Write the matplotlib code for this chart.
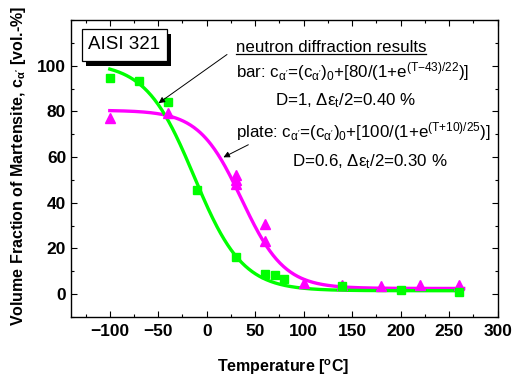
import numpy as np
import matplotlib
matplotlib.use("Agg")
import matplotlib.pyplot as plt
from matplotlib.patches import Rectangle
from matplotlib.lines import Line2D

plt.rcParams['font.family'] = ['Liberation Sans', 'DejaVu Sans']
plt.rcParams['mathtext.default'] = 'regular'

# ---- data ----
bar_T = [-100, -70, -40, -10, 30, 60, 70, 80, 140, 200, 260]
bar_c = [94.5, 93.3, 84.2, 45.4, 16.2, 9.0, 8.5, 6.6, 3.5, 2.0, 1.0]

plate_T = [-100, -40, 30, 30, 30, 60, 60, 100, 140, 180, 220, 260]
plate_c = [77.0, 79.5, 52.0, 50.0, 48.0, 30.7, 23.4, 4.9, 4.2, 3.5, 3.8, 3.8]

# sigmoidal fit parameters (as drawn): c = c0 + A/(1+exp((T-T0)/w))
green_fit = dict(c0=1.5, A=100.0, T0=-13.0, w=25.0, Tmin=-100, Tmax=262)
magenta_fit = dict(c0=2.5, A=78.0, T0=36.0, w=22.0, Tmin=-100, Tmax=265)

x_ticks = [-100, -50, 0, 50, 100, 150, 200, 250, 300]
y_ticks = [0, 20, 40, 60, 80, 100]


def sigmoid(p):
    T = np.linspace(p['Tmin'], p['Tmax'], 400)
    return T, p['c0'] + p['A'] / (1.0 + np.exp((T - p['T0']) / p['w']))


fig = plt.figure(figsize=(5.13, 3.79), dpi=100)
ax = fig.add_axes([0.1384, 0.1636, 0.970 - 0.1384, 0.9472 - 0.1636])

GREEN = '#00FF00'
MAGENTA = '#FF00FF'

Tm, cm = sigmoid(magenta_fit)
ax.plot(Tm, cm, color=MAGENTA, lw=2.4, zorder=3)
Tg, cg = sigmoid(green_fit)
ax.plot(Tg, cg, color=GREEN, lw=2.4, zorder=3)

ax.plot(plate_T, plate_c, linestyle='none', marker='^', ms=7.5,
        color=MAGENTA, mec=MAGENTA, zorder=4)
ax.plot(bar_T, bar_c, linestyle='none', marker='s', ms=6.0,
        color=GREEN, mec=GREEN, zorder=4)

ax.set_xlim(-140, 300)
ax.set_ylim(-10, 120)
ax.set_xticks(x_ticks)
ax.set_xticks(np.arange(-125, 300, 25), minor=True)
ax.set_yticks(y_ticks)
ax.set_yticks(np.arange(-10, 121, 10), minor=True)

ax.tick_params(which='both', direction='in', top=True, right=True, width=0.8)
ax.tick_params(which='major', length=4.2, labelsize=12.5, pad=5.0)
ax.tick_params(which='minor', length=2.2)
ax.tick_params(axis='y', which='major', pad=3.5)
for lab in ax.get_xticklabels() + ax.get_yticklabels():
    lab.set_fontweight('bold')
for sp in ax.spines.values():
    sp.set_linewidth(1.0)

ax.set_xlabel('Temperature [$^{o}$C]', fontsize=11.5, fontweight='bold')
ax.xaxis.set_label_coords(0.497, -0.135)
ax.set_ylabel("Volume Fraction of Martensite, c$_{α'}$ [vol.-%]",
              fontsize=11.5, fontweight='bold')
ax.yaxis.set_label_coords(-0.10, 0.51)

# AISI 321 box with shadow
bx0, bx1, by0, by1 = 0.0251, 0.2243, 0.862, 0.9697
ax.add_patch(Rectangle((bx0 + 0.0105, by0 - 0.0168), bx1 - bx0, by1 - by0,
                       transform=ax.transAxes, facecolor='black',
                       edgecolor='black', lw=0, zorder=6))
ax.add_patch(Rectangle((bx0, by0), bx1 - bx0, by1 - by0,
                       transform=ax.transAxes, facecolor='white',
                       edgecolor='black', lw=0.9, zorder=7))
ax.text((bx0 + bx1) / 2, 0.916, 'AISI 321', transform=ax.transAxes,
        ha='center', va='center', fontsize=13.5, zorder=8)

fs = 12.2
t_head = ax.text(0.3867, 0.893, 'neutron diffraction results',
                 transform=ax.transAxes, fontsize=fs, va='baseline', zorder=8)
ax.text(0.3867, 0.807,
        "bar: c$_{α'}$=(c$_{α'}$)$_0$+[80/(1+e$^{(T{-}43)/22}$)]",
        transform=ax.transAxes, fontsize=fs, va='baseline', zorder=8)
ax.text(0.478, 0.714, 'D=1, Δε$_t$/2=0.40 %',
        transform=ax.transAxes, fontsize=fs, va='baseline', zorder=8)
ax.text(0.386, 0.605,
        "plate: c$_{α'}$=(c$_{α'}$)$_0$+[100/(1+e$^{(T{+}10)/25}$)]",
        transform=ax.transAxes, fontsize=fs, va='baseline', zorder=8)
ax.text(0.517, 0.508, 'D=0.6, Δε$_t$/2=0.30 %',
        transform=ax.transAxes, fontsize=fs, va='baseline', zorder=8)

# arrows
ax.annotate('', xy=(-49.7, 83.6), xytext=(20.9, 104.9),
            arrowprops=dict(arrowstyle='-|>', color='black', lw=0.7,
                            mutation_scale=9, shrinkA=0, shrinkB=0), zorder=8)
ax.annotate('', xy=(17.2, 59.9), xytext=(42.9, 65.4),
            arrowprops=dict(arrowstyle='-|>', color='black', lw=0.7,
                            mutation_scale=9, shrinkA=0, shrinkB=0), zorder=8)

# underline of heading
fig.canvas.draw()
bb = t_head.get_window_extent(renderer=fig.canvas.get_renderer())
inv = fig.transFigure.inverted()
x0f, _ = inv.transform((bb.x0, 0))
x1f, _ = inv.transform((bb.x1, 0))
yb = ax.transAxes.transform((0, 0.893))[1] - 2.0
_, ybf = inv.transform((0, yb))
fig.add_artist(Line2D([x0f, x1f], [ybf, ybf], transform=fig.transFigure,
                      color='black', lw=0.9))

fig.savefig('out.png', dpi=100)
